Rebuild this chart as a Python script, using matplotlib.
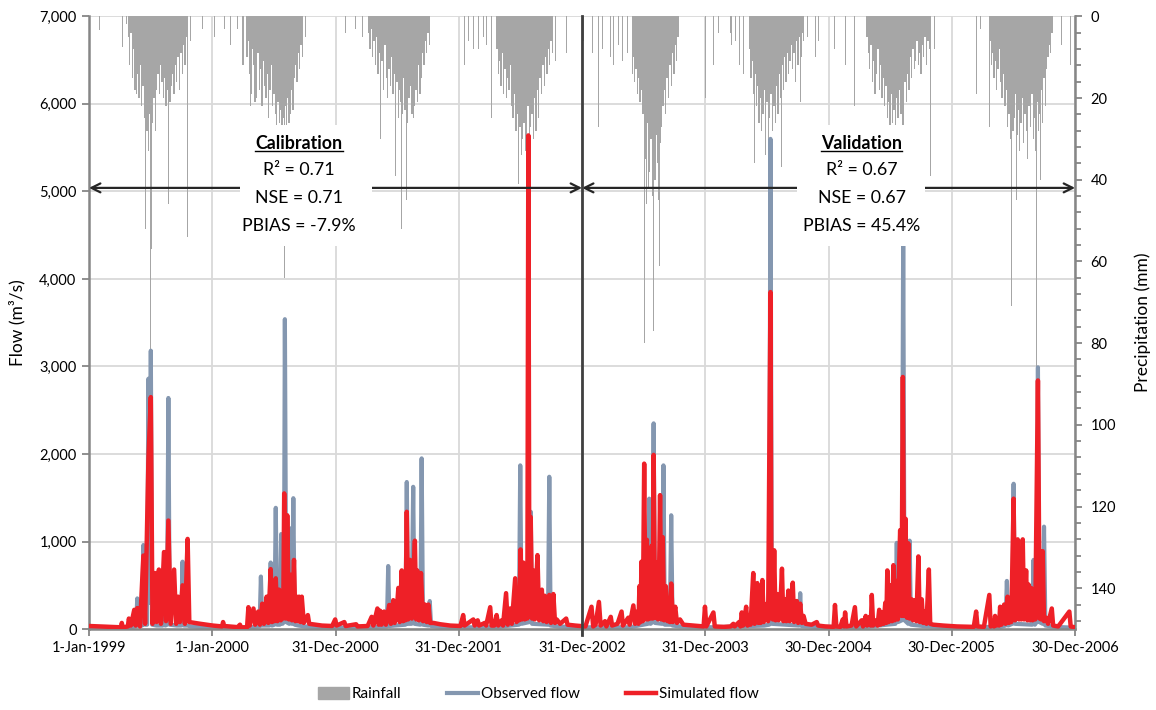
"""
Daily flow (observed vs simulated) with inverted rainfall, calibration/validation split.
"""
import matplotlib.pyplot as plt
from matplotlib.patches import Patch, Rectangle
from matplotlib.lines import Line2D
from matplotlib.ticker import MultipleLocator
from matplotlib.transforms import IdentityTransform
import numpy as np
import pandas as pd

plt.rcParams["font.family"] = ["Lato", "DejaVu Sans"]

START = pd.Timestamp("1999-01-01")

# x-axis ticks (every 365 days from the start)
tick_days = [0, 365, 730, 1095, 1460, 1825, 2190, 2555, 2920]
tick_labels = ["1-Jan-1999", "1-Jan-2000", "31-Dec-2000", "31-Dec-2001", "31-Dec-2002",
               "31-Dec-2003", "30-Dec-2004", "30-Dec-2005", "30-Dec-2006"]
split_day = 1460

# simulated flow (m3/s): (day since 1-Jan-1999, flow)
sim_pts = [
    (0, 35), (60, 25), (95, 20), (97, 70), (100, 20), (115, 30), (118, 120), (124, 40), (134, 220),
    (138, 40), (143, 240), (151, 30), (161, 840), (166, 60), (176, 1950), (183, 2650), (188, 60),
    (195, 640), (200, 80), (207, 680), (213, 60), (222, 880), (228, 90), (235, 1240), (242, 60),
    (252, 680), (258, 60), (264, 370), (269, 80), (277, 500), (284, 60), (292, 1030), (297, 80),
    (330, 60), (367, 40), (394, 30), (397, 80), (400, 35), (440, 22), (447, 50), (450, 20),
    (468, 20), (472, 250), (476, 40), (487, 235), (492, 50), (501, 200), (506, 50), (513, 290),
    (518, 60), (526, 370), (531, 70), (538, 685), (542, 80), (546, 520), (549, 90), (553, 580),
    (558, 90), (563, 450), (568, 100), (572, 380), (575, 120), (578, 1550), (583, 120), (587, 1300),
    (592, 110), (597, 620), (601, 100), (607, 790), (611, 90), (615, 370), (619, 90), (622, 370),
    (626, 80), (630, 370), (636, 70), (648, 160), (652, 60), (670, 50), (690, 40), (720, 35),
    (729, 110), (733, 40), (756, 80), (760, 35), (791, 55), (795, 30), (825, 35), (837, 140),
    (842, 40), (854, 235), (858, 50), (862, 210), (866, 50), (874, 200), (879, 50), (889, 275),
    (894, 60), (901, 330), (905, 70), (912, 250), (916, 470), (920, 80), (926, 670), (930, 90),
    (933, 350), (937, 100), (941, 1340), (945, 110), (951, 790), (956, 120), (960, 500), (965, 1010),
    (969, 110), (972, 670), (977, 100), (983, 640), (989, 90), (995, 280), (1000, 80), (1005, 280),
    (1010, 70), (1020, 70), (1040, 55), (1070, 40), (1100, 35), (1108, 160), (1112, 40), (1138, 110),
    (1142, 40), (1151, 100), (1155, 40), (1172, 70), (1176, 40), (1188, 250), (1192, 40), (1200, 40),
    (1207, 160), (1212, 40), (1222, 100), (1226, 40), (1235, 410), (1240, 50), (1247, 235),
    (1252, 60), (1262, 580), (1266, 80), (1271, 450), (1274, 100), (1278, 910), (1282, 110),
    (1286, 760), (1290, 110), (1295, 400), (1298, 120), (1301, 5640), (1304, 150), (1308, 1280),
    (1312, 120), (1316, 670), (1320, 110), (1324, 500), (1328, 845), (1333, 100), (1337, 380),
    (1341, 450), (1345, 90), (1350, 380), (1355, 80), (1359, 250), (1363, 390), (1368, 70),
    (1375, 400), (1380, 70), (1385, 110), (1395, 60), (1413, 120), (1417, 50), (1440, 40),
    (1470, 30), (1488, 255), (1493, 30), (1500, 50), (1510, 310), (1515, 40), (1528, 90), (1532, 30),
    (1545, 140), (1549, 40), (1565, 60), (1577, 200), (1581, 40), (1597, 130), (1601, 50),
    (1612, 270), (1617, 60), (1624, 200), (1627, 60), (1630, 490), (1633, 80), (1636, 770),
    (1640, 90), (1644, 1890), (1648, 110), (1652, 1020), (1655, 110), (1659, 830), (1662, 120),
    (1666, 950), (1669, 120), (1672, 1990), (1676, 130), (1681, 760), (1685, 110), (1688, 600),
    (1691, 1530), (1695, 110), (1699, 1050), (1703, 100), (1708, 490), (1713, 90), (1717, 300),
    (1720, 80), (1724, 520), (1729, 80), (1736, 255), (1741, 70), (1750, 110), (1760, 50),
    (1790, 40), (1820, 30), (1824, 255), (1828, 30), (1849, 190), (1853, 30), (1880, 25),
    (1900, 30), (1908, 60), (1912, 30), (1925, 80), (1929, 30), (1933, 190), (1937, 40), (1941, 120),
    (1946, 255), (1950, 40), (1955, 150), (1959, 50), (1967, 640), (1971, 60), (1975, 300),
    (1979, 525), (1982, 70), (1985, 400), (1989, 70), (1994, 560), (1998, 80), (2002, 200),
    (2007, 290), (2011, 90), (2018, 3850), (2021, 150), (2025, 110), (2029, 900), (2033, 100),
    (2038, 400), (2042, 100), (2047, 250), (2052, 690), (2056, 90), (2061, 340), (2065, 90),
    (2071, 440), (2075, 90), (2079, 300), (2084, 530), (2088, 80), (2092, 250), (2096, 320),
    (2100, 70), (2106, 290), (2111, 70), (2116, 150), (2122, 60), (2140, 50), (2155, 80),
    (2159, 40), (2180, 30), (2205, 25), (2209, 275), (2213, 30), (2225, 25), (2232, 110), (2236, 30),
    (2239, 190), (2243, 30), (2258, 40), (2268, 250), (2272, 30), (2288, 100), (2292, 30),
    (2300, 150), (2304, 40), (2312, 140), (2315, 40), (2318, 390), (2322, 40), (2330, 100),
    (2335, 40), (2340, 220), (2344, 50), (2349, 190), (2353, 60), (2358, 300), (2361, 70),
    (2364, 670), (2368, 80), (2374, 500), (2378, 90), (2382, 730), (2386, 100), (2392, 550),
    (2395, 110), (2398, 600), (2402, 1130), (2406, 150), (2410, 2880), (2414, 150), (2418, 1260),
    (2422, 130), (2426, 980), (2430, 120), (2436, 340), (2440, 100), (2446, 330), (2450, 90),
    (2456, 830), (2460, 80), (2466, 340), (2470, 70), (2476, 200), (2480, 60), (2487, 680),
    (2491, 60), (2500, 50), (2530, 40), (2570, 30), (2620, 25), (2627, 200), (2631, 30), (2650, 25),
    (2666, 390), (2670, 30), (2676, 80), (2680, 30), (2683, 150), (2687, 40), (2692, 120), (2695, 40),
    (2698, 255), (2702, 50), (2706, 150), (2710, 280), (2714, 60), (2720, 370), (2724, 70),
    (2727, 250), (2731, 80), (2738, 1490), (2742, 100), (2746, 400), (2750, 1025), (2754, 110),
    (2757, 700), (2761, 110), (2765, 1025), (2769, 110), (2775, 670), (2779, 100), (2782, 510),
    (2786, 100), (2790, 470), (2794, 100), (2797, 450), (2802, 110), (2810, 2840), (2815, 120),
    (2820, 110), (2824, 890), (2828, 90), (2834, 130), (2840, 60), (2851, 235), (2855, 40),
    (2870, 30), (2903, 200), (2907, 30), (2920, 20),
]

# observed flow (m3/s)
obs_pts = [
    (0, 25), (120, 20), (139, 30), (143, 350), (147, 40), (157, 40), (161, 960), (165, 50),
    (172, 50), (176, 2860), (179, 300), (183, 3180), (187, 50), (200, 40), (218, 40), (222, 700),
    (226, 40), (231, 50), (235, 2640), (239, 50), (260, 40), (273, 40), (277, 770), (281, 40),
    (292, 40), (300, 30), (350, 20), (450, 12), (490, 25), (505, 30), (509, 600), (513, 40),
    (534, 40), (538, 760), (542, 40), (549, 50), (553, 1385), (557, 50), (565, 50), (569, 1085),
    (573, 60), (577, 80), (580, 3540), (584, 80), (593, 60), (597, 1150), (601, 60),
    (605, 1495), (609, 50), (620, 40), (640, 30), (700, 20), (800, 15), (850, 25), (882, 30),
    (886, 720), (890, 35), (937, 50), (941, 1680), (945, 60), (955, 60), (960, 1625), (964, 60),
    (981, 50), (985, 1950), (989, 50), (1005, 40), (1009, 320), (1013, 35), (1040, 25), (1100, 20),
    (1200, 20), (1273, 50), (1277, 1870), (1281, 60), (1304, 80), (1308, 1340), (1312, 60),
    (1359, 50), (1363, 1740), (1367, 40), (1390, 30), (1460, 20), (1600, 20), (1655, 60),
    (1659, 1490), (1663, 60), (1668, 80), (1672, 2350), (1676, 70), (1697, 60), (1701, 1870),
    (1705, 50), (1720, 50), (1724, 1300), (1728, 40), (1750, 30), (1850, 20), (2000, 40),
    (2014, 50), (2018, 5600), (2022, 60), (2102, 40), (2106, 410), (2110, 35), (2150, 25),
    (2300, 25), (2388, 60), (2392, 985), (2396, 80), (2407, 100), (2411, 4500), (2415, 100),
    (2426, 60), (2430, 1010), (2434, 50), (2470, 35), (2550, 20), (2700, 25), (2714, 40),
    (2718, 550), (2722, 40), (2734, 60), (2738, 1660), (2742, 60), (2793, 50), (2797, 790),
    (2801, 50), (2806, 80), (2810, 2990), (2814, 80), (2824, 60), (2828, 1170), (2832, 40),
    (2860, 25), (2920, 15),
]

# rainfall (mm), wet-season blocks in 4-day bins: first day of block, values
rain_1999 = (116, [5, 12, 4, 15, 8, 18, 10, 14, 20, 12, 22, 17, 25, 30, 28, 33, 24, 30, 26, 20,
                   28, 18, 14, 19, 12, 16, 20, 15, 22, 18, 13, 21, 17, 14, 19, 12, 16, 10, 18, 9,
                   14, 7, 12, 5, 8])
rain_2000 = (468, [10, 6, 14, 19, 8, 12, 21, 16, 9, 18, 13, 22, 11, 17, 20, 14, 25, 18, 12, 22,
                   19, 24, 27, 21, 26, 23, 27, 25, 22, 27, 20, 26, 24, 18, 23, 15, 12, 16, 9, 13,
                   7, 10])
rain_2001 = (828, [4, 8, 3, 10, 6, 12, 5, 14, 9, 16, 11, 18, 7, 15, 20, 13, 17, 10, 19, 14,
                   22, 16, 25, 18, 21, 24, 15, 23, 19, 26, 20, 17, 24, 14, 22, 18, 21, 12, 19, 15,
                   9, 12, 6, 9, 4, 7])
rain_2002 = (1208, [8, 14, 11, 17, 9, 19, 13, 20, 15, 18, 12, 22, 25, 19, 28, 24, 32, 27, 34, 30,
                    26, 33, 29, 22, 31, 27, 24, 30, 20, 28, 18, 25, 15, 19, 12, 17, 10, 14, 8, 12,
                    6, 9])
rain_2003 = (1612, [10, 16, 13, 19, 15, 21, 18, 24, 28, 35, 26, 42, 38, 30, 44, 33, 40, 29, 36, 45,
                    31, 27, 22, 18, 24, 15, 20, 12, 17, 9, 14, 7, 11, 5])
rain_2004 = (1956, [8, 15, 11, 19, 14, 22, 17, 26, 20, 28, 24, 18, 27, 21, 30, 25, 19, 28, 22, 26,
                    17, 24, 14, 20, 12, 18, 10, 16, 9, 14, 11, 7, 13, 9, 16, 6, 12, 5, 10, 4, 6])
rain_2005 = (2304, [5, 9, 13, 7, 16, 11, 19, 14, 8, 18, 12, 20, 15, 22, 17, 25, 21, 27, 19, 26,
                    23, 27, 20, 25, 18, 24, 27, 22, 16, 21, 14, 18, 10, 15, 8, 13, 11, 6, 12, 9,
                    14, 7, 10, 5, 12, 6, 8])
rain_2006 = (2668, [6, 12, 9, 15, 11, 18, 13, 8, 16, 20, 14, 22, 18, 27, 24, 30, 21, 28, 25, 19,
                    29, 23, 33, 26, 20, 31, 24, 28, 35, 22, 27, 19, 30, 25, 33, 21, 28, 24, 18, 26,
                    15, 22, 13, 10, 7, 9, 4])
rain_blocks = [rain_1999, rain_2000, rain_2001, rain_2002, rain_2003, rain_2004, rain_2005, rain_2006]

# single rainy days outside / deeper than the blocks (day, mm)
rain_spikes = [
    (30, 3.4), (98, 7.6), (110, 2), (141, 19), (166, 52), (175, 32), (181, 82), (186, 57), (235, 46),
    (291, 54), (300, 6), (335, 3), (373, 5), (400, 3), (420, 7), (441, 3), (456, 12), (479, 22),
    (497, 20), (580, 64), (640, 5), (760, 4), (790, 3), (810, 5), (862, 30), (909, 39), (924, 52),
    (941, 45), (961, 25), (1113, 12), (1123, 6), (1138, 8), (1153, 8), (1168, 5), (1178, 7),
    (1193, 25), (1273, 41), (1380, 11), (1415, 9), (1465, 6), (1490, 9), (1510, 27), (1520, 8),
    (1543, 10), (1553, 12), (1568, 7), (1580, 11), (1595, 9), (1608, 14), (1645, 80), (1651, 46),
    (1673, 77), (1690, 61), (1825, 20), (1849, 12), (1865, 4), (1900, 4), (1903, 7), (1915, 6),
    (1925, 12), (1937, 14), (1972, 36), (2002, 34), (2012, 30), (2051, 37), (2106, 21), (2129, 5),
    (2150, 10), (2160, 6), (2209, 8), (2240, 12), (2268, 22), (2411, 56), (2491, 39), (2505, 8),
    (2629, 19), (2640, 3), (2668, 27), (2690, 8), (2731, 71), (2746, 45), (2805, 86), (2819, 40),
    (2881, 7), (2905, 12),
]

stats = {
    "Calibration": ["R\u00b2 = 0.71", "NSE = 0.71", "PBIAS = -7.9%"],
    "Validation": ["R\u00b2 = 0.67", "NSE = 0.67", "PBIAS = 45.4%"],
}

RAIN_C = "#a6a6a6"
OBS_C = "#8497b0"
SIM_C = "#ee2027"
GRID_C = "#d9d9d9"
AXIS_C = "#868686"


def to_dates(days):
    return START + pd.to_timedelta(np.asarray(days), unit="D")


fig = plt.figure(figsize=(11.56, 7.10), dpi=100)
pos = [0.077, 0.114, 0.853, 0.863]
ax_grid = fig.add_axes(pos, zorder=0)
ax_rain = fig.add_axes(pos, zorder=1, sharex=ax_grid)
ax_flow = fig.add_axes(pos, zorder=2, sharex=ax_grid)

xticks = to_dates(tick_days)
ax_grid.set_xlim(xticks[0], xticks[-1])
ax_grid.set_ylim(0, 7000)
ax_grid.set_xticks(xticks)
ax_grid.set_yticks(np.arange(0, 7001, 1000))
ax_grid.grid(True, color=GRID_C, lw=1.3)
ax_grid.tick_params(left=False, bottom=False, labelleft=False, labelbottom=False)
for s in ax_grid.spines.values():
    s.set_visible(False)

# rainfall, inverted on the right
for first, vals in rain_blocks:
    days = first + 4 * np.arange(len(vals))
    ax_rain.bar(to_dates(days), vals, width=4, color=RAIN_C, linewidth=0)
sd, sv = zip(*rain_spikes)
ax_rain.bar(to_dates(sd), sv, width=3, color=RAIN_C, linewidth=0)
ax_rain.set_ylim(150, 0)
ax_rain.patch.set_visible(False)
ax_rain.yaxis.tick_right()
ax_rain.yaxis.set_label_position("right")
ax_rain.set_yticks(np.arange(0, 141, 20))
ax_rain.yaxis.set_minor_locator(MultipleLocator(4))
ax_rain.tick_params(axis="x", bottom=False, labelbottom=False)
ax_rain.tick_params(axis="y", which="major", direction="out", length=5, width=1.3,
                    color=AXIS_C, labelsize=10.5, pad=6)
ax_rain.tick_params(axis="y", which="minor", direction="out", length=4, width=1.3, color=AXIS_C)
for k in ["left", "top", "bottom"]:
    ax_rain.spines[k].set_visible(False)
ax_rain.spines["right"].set_color(AXIS_C)
ax_rain.spines["right"].set_linewidth(1.8)
ax_rain.set_ylabel("Precipitation (mm)", fontsize=12.5, rotation=90)
ax_rain.yaxis.set_label_coords(1.060, 0.5)

# flows
od, ov = zip(*obs_pts)
ax_flow.plot(to_dates(od), ov, color=OBS_C, lw=3.0, zorder=2)
fd, fv = zip(*sim_pts)
ax_flow.plot(to_dates(fd), fv, color=SIM_C, lw=3.2, zorder=3)
ax_flow.set_ylim(0, 7000)
ax_flow.patch.set_visible(False)
ax_flow.set_yticks(np.arange(0, 7001, 1000))
ax_flow.yaxis.set_major_formatter(lambda v, p: f"{v:,.0f}")
ax_flow.set_xticks(xticks)
ax_flow.set_xticklabels(tick_labels)
ax_flow.tick_params(axis="both", direction="out", length=5, width=1.3, color=AXIS_C,
                    labelsize=10.5)
ax_flow.tick_params(axis="y", pad=4)
for k in ["right", "top"]:
    ax_flow.spines[k].set_visible(False)
for k in ["left", "bottom"]:
    ax_flow.spines[k].set_color(AXIS_C)
    ax_flow.spines[k].set_linewidth(1.8)
ax_flow.set_ylabel("Flow (m\u00b3/s)", fontsize=12.5)
ax_flow.yaxis.set_label_coords(-0.064, 0.5)

# calibration / validation split
split = to_dates([split_day])[0]
ax_flow.axvline(split, color="#404040", lw=2.0, zorder=6, ymin=-0.01, clip_on=False)
for a, b in [(xticks[0], split), (split, xticks[-1])]:
    ax_flow.annotate("", xy=(a, 5040), xytext=(b, 5040), zorder=4,
                     arrowprops=dict(arrowstyle="<->", color="#262626", lw=1.6,
                                     shrinkA=0, shrinkB=0, mutation_scale=16))

boxes = {"Calibration": (0.153, 0.287, 622), "Validation": (0.718, 0.848, 2288)}
titles = []
for name, (bx0, bx1, cday) in boxes.items():
    ax_flow.add_patch(Rectangle((bx0, 0.625), bx1 - bx0, 0.197, transform=ax_flow.transAxes,
                                facecolor="white", edgecolor="none", zorder=5))
    cx = to_dates([cday])[0]
    t = ax_flow.text(cx, 5550, name, ha="center", va="center", fontsize=12.8,
                     fontweight="bold", zorder=7)
    titles.append(t)
    for line, yv in zip(stats[name], [5240, 4920, 4610]):
        ax_flow.text(cx, yv, line, ha="center", va="center", fontsize=12.8, zorder=7)

# underline the titles
fig.canvas.draw()
renderer = fig.canvas.get_renderer()
for t in titles:
    bb = t.get_window_extent(renderer)
    fig.add_artist(Line2D([bb.x0, bb.x1], [bb.y0 + 1, bb.y0 + 1], color="black", lw=1.0,
                          transform=IdentityTransform(), zorder=10))

handles = [Patch(color=RAIN_C), Line2D([], [], color=OBS_C, lw=3.0),
           Line2D([], [], color=SIM_C, lw=3.2)]
fig.legend(handles, ["Rainfall", "Observed flow", "Simulated flow"], loc="center",
           bbox_to_anchor=(0.466, 0.022), ncol=3, frameon=False, fontsize=11,
           handlelength=2.0, handleheight=0.8, columnspacing=3.0, handletextpad=0.2)

fig.savefig("out.png", dpi=100)
